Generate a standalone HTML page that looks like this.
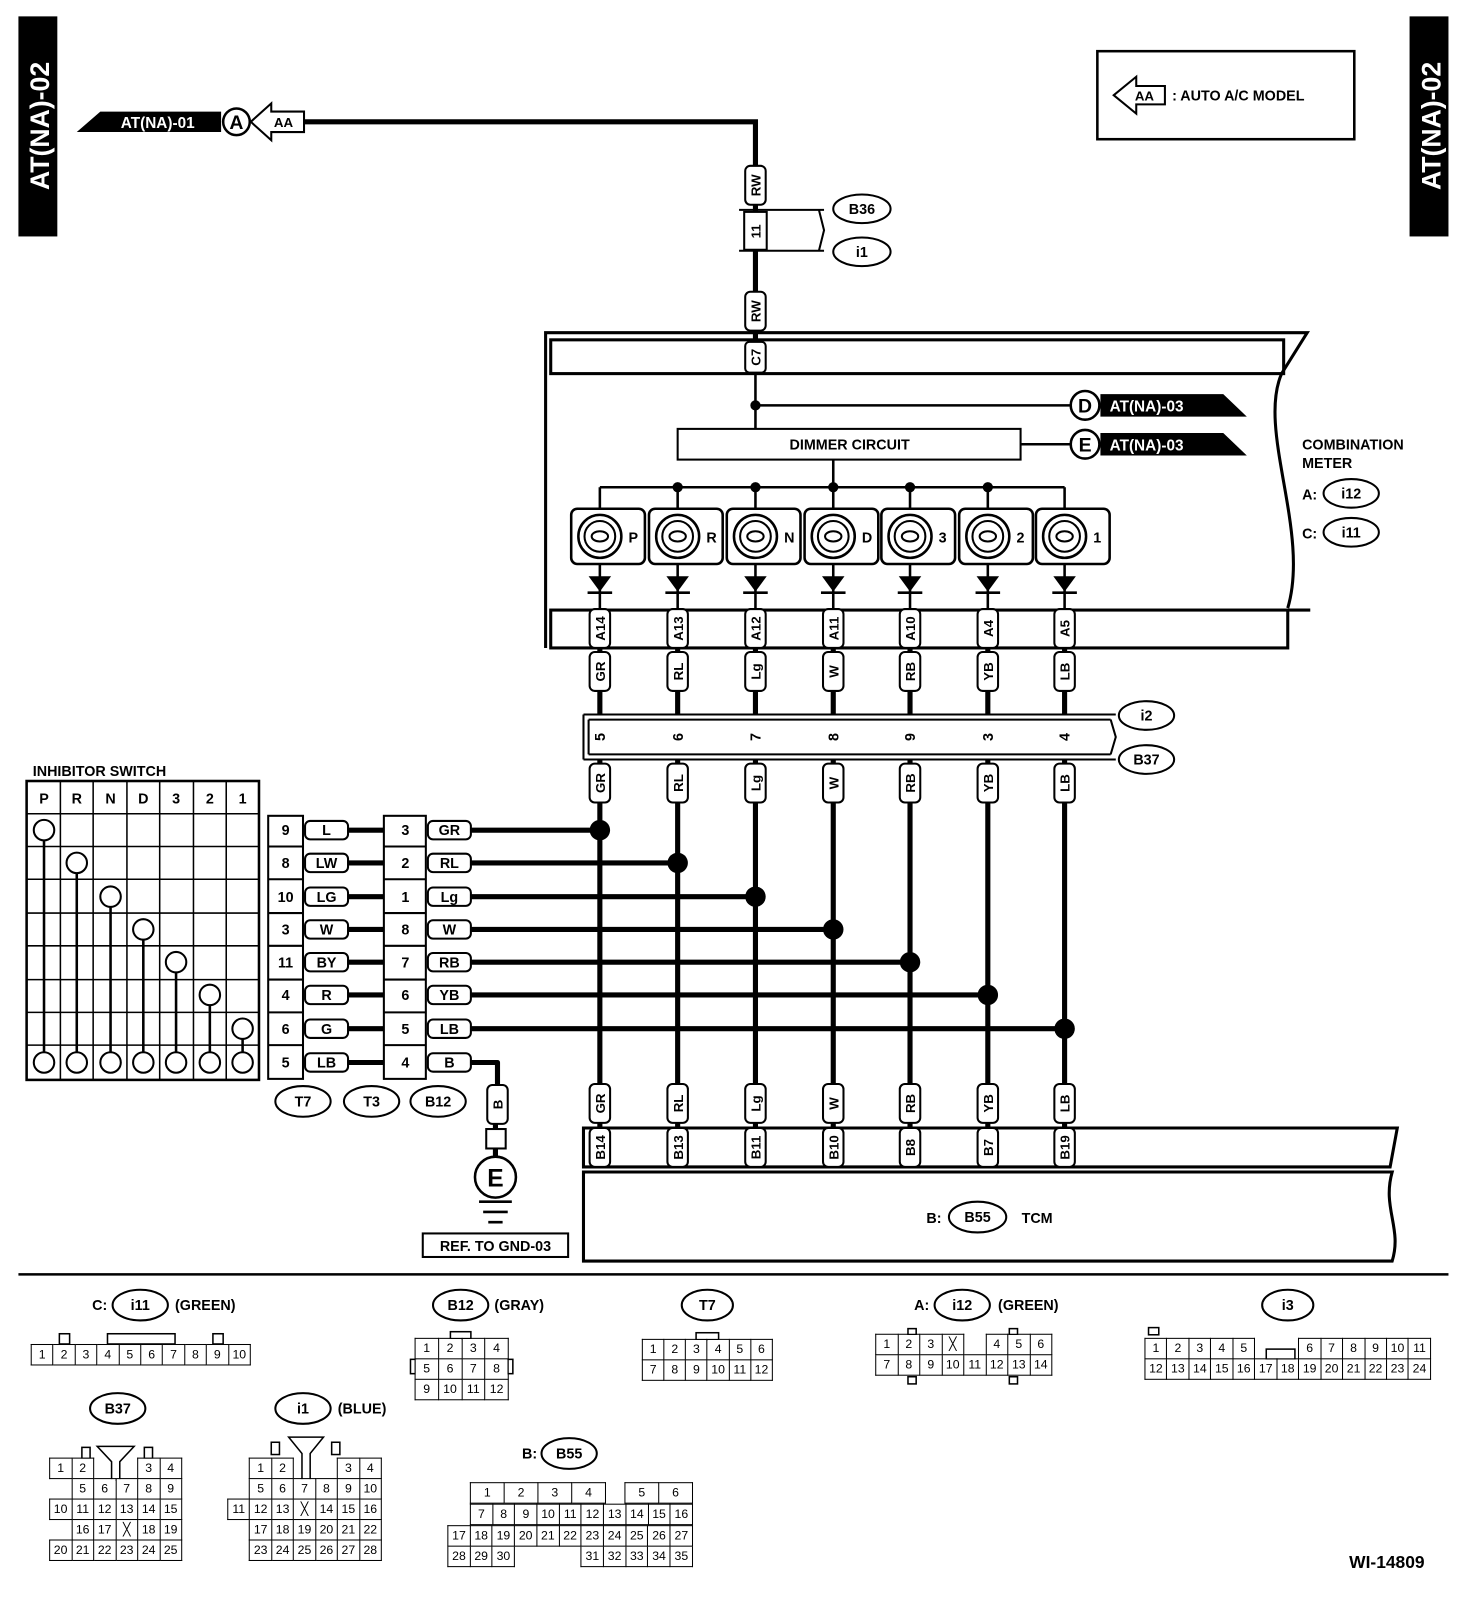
<!DOCTYPE html>
<html><head><meta charset="utf-8"><style>
body{margin:0;background:#fff;}
#w{position:absolute;left:0;top:0;width:1438px;height:1565px;transform:scale(1.02365,1.0236);transform-origin:0 0;font-family:"Liberation Sans",Arial,sans-serif;}
svg{position:absolute;left:0;top:0;}
svg text{font-family:"Liberation Sans",Arial,sans-serif;font-weight:bold;}
table{position:absolute;border-collapse:collapse;font-size:12px;table-layout:fixed;}
td{border:1.5px solid #000;text-align:center;padding:0;height:19px;line-height:17px;background:#fff;overflow:hidden;}
td.n{border:none;background:transparent;}
</style></head><body><div id="w">
<svg width="1438" height="1565" viewBox="0 0 1438 1565">
<defs>
<g id="vl"><rect x="-10" y="-19" width="20" height="38" rx="5" fill="#fff" stroke="#000" stroke-width="2"/></g>
<g id="lp">
<line x1="0" y1="476" x2="0" y2="497" stroke="#000" stroke-width="2.5"/>
<rect x="-28" y="497" width="72" height="54" rx="6" fill="#fff" stroke="#000" stroke-width="2.5"/>
<circle cx="0" cy="524" r="21" fill="none" stroke="#000" stroke-width="2.5"/>
<circle cx="0" cy="524" r="15" fill="none" stroke="#000" stroke-width="2"/>
<ellipse cx="0" cy="524" rx="8" ry="5" fill="none" stroke="#000" stroke-width="2"/>
<line x1="0" y1="551" x2="0" y2="596" stroke="#000" stroke-width="2.5"/>
<polygon points="-11,563 11,563 0,578"/><line x1="-12" y1="579" x2="12" y2="579" stroke="#000" stroke-width="2.5"/>
</g>
</defs>
<rect x="18" y="16" width="38" height="215" fill="#000"/>
<text transform="translate(48,123) rotate(-90)" text-anchor="middle" fill="#fff" font-size="26">AT(NA)-02</text>
<rect x="1377" y="16" width="38" height="215" fill="#000"/>
<text transform="translate(1407,123) rotate(-90)" text-anchor="middle" fill="#fff" font-size="26">AT(NA)-02</text>
<rect x="1072" y="50" width="251" height="86" fill="none" stroke="#000" stroke-width="2.5"/>
<polygon points="1088,93 1110,75 1110,84 1138,84 1138,102 1110,102 1110,111" fill="#fff" stroke="#000" stroke-width="2"/>
<text x="1118" y="98" text-anchor="middle" font-size="13">AA</text>
<text x="1145" y="98" font-size="14">: AUTO A/C MODEL</text>
<polygon points="75,129 98,109 216,109 216,129" fill="#000"/>
<text x="118" y="125" fill="#fff" font-size="15" font-weight="normal">AT(NA)-01</text>
<circle cx="231" cy="119" r="13" fill="#fff" stroke="#000" stroke-width="2.5"/>
<text x="231" y="126" text-anchor="middle" font-size="19">A</text>
<polygon points="245,119 265,101 265,109 297,109 297,129 265,129 265,137" fill="#fff" stroke="#000" stroke-width="2"/>
<text x="277" y="124" text-anchor="middle" font-size="13">AA</text>
<polyline points="297,119 738,119 738,340" fill="none" stroke="#000" stroke-width="5"/>
<use href="#vl" x="738" y="181"/><text transform="translate(738,181) rotate(-90)" text-anchor="middle" dy="5" font-size="13">RW</text>
<path d="M722,205 H805 M722,245 H805 M800,205 L805,225 L800,245" fill="none" stroke="#000" stroke-width="2"/>
<rect x="727" y="207" width="22" height="37" fill="#fff" stroke="#000" stroke-width="2"/>
<text transform="translate(738,226) rotate(-90)" text-anchor="middle" dy="5" font-size="13">11</text>
<ellipse cx="842" cy="204" rx="28" ry="14" fill="#fff" stroke="#000" stroke-width="2"/><text x="842" y="209" text-anchor="middle" font-size="14">B36</text>
<ellipse cx="842" cy="246" rx="28" ry="14" fill="#fff" stroke="#000" stroke-width="2"/><text x="842" y="251" text-anchor="middle" font-size="14">i1</text>
<use href="#vl" x="738" y="304"/><text transform="translate(738,304) rotate(-90)" text-anchor="middle" dy="5" font-size="13">RW</text>
<path d="M533,633 V325 H1277 L1252,365 C1228,420 1280,520 1258,594" fill="none" stroke="#000" stroke-width="3"/>
<rect x="538" y="332" width="716" height="33" fill="none" stroke="#000" stroke-width="3"/>
<rect x="538" y="596" width="720" height="37" fill="none" stroke="#000" stroke-width="3"/>
<line x1="1258" y1="596" x2="1280" y2="596" stroke="#000" stroke-width="3"/>
<rect x="728" y="334" width="20" height="30" rx="4" fill="#fff" stroke="#000" stroke-width="2"/>
<text transform="translate(738,349) rotate(-90)" text-anchor="middle" dy="5" font-size="13">C7</text>
<line x1="738" y1="365" x2="738" y2="419" stroke="#000" stroke-width="2.5"/>
<line x1="738" y1="396" x2="1046" y2="396" stroke="#000" stroke-width="2.5"/>
<circle cx="738" cy="396" r="5"/>
<circle cx="1060" cy="396" r="14" fill="#fff" stroke="#000" stroke-width="2.5"/><text x="1060" y="403" text-anchor="middle" font-size="19">D</text>
<polygon points="1075,385 1195,385 1218,407 1075,407" fill="#000"/><text x="1084" y="402" fill="#fff" font-size="15" font-weight="normal">AT(NA)-03</text>
<rect x="662" y="419" width="335" height="30" fill="#fff" stroke="#000" stroke-width="2"/>
<text x="830" y="439" text-anchor="middle" font-size="14">DIMMER CIRCUIT</text>
<line x1="997" y1="434" x2="1046" y2="434" stroke="#000" stroke-width="2.5"/>
<circle cx="1060" cy="434" r="14" fill="#fff" stroke="#000" stroke-width="2.5"/><text x="1060" y="441" text-anchor="middle" font-size="19">E</text>
<polygon points="1075,423 1195,423 1218,445 1075,445" fill="#000"/><text x="1084" y="440" fill="#fff" font-size="15" font-weight="normal">AT(NA)-03</text>
<line x1="814" y1="449" x2="814" y2="476" stroke="#000" stroke-width="2.5"/>
<line x1="586" y1="476" x2="1040" y2="476" stroke="#000" stroke-width="2.5"/>
<g fill="#000"><circle cx="662" cy="476" r="5"/><circle cx="738" cy="476" r="5"/><circle cx="814" cy="476" r="5"/><circle cx="889" cy="476" r="5"/><circle cx="965" cy="476" r="5"/></g>
<text x="1272" y="439" font-size="14">COMBINATION</text>
<text x="1272" y="457" font-size="14">METER</text>
<text x="1272" y="488" font-size="14">A:</text>
<ellipse cx="1320" cy="482" rx="27" ry="14" fill="#fff" stroke="#000" stroke-width="2"/><text x="1320" y="487" text-anchor="middle" font-size="14">i12</text>
<text x="1272" y="526" font-size="14">C:</text>
<ellipse cx="1320" cy="520" rx="27" ry="14" fill="#fff" stroke="#000" stroke-width="2"/><text x="1320" y="525" text-anchor="middle" font-size="14">i11</text>
<use href="#lp" x="586"/><use href="#lp" x="662"/><use href="#lp" x="738"/><use href="#lp" x="814"/><use href="#lp" x="889"/><use href="#lp" x="965"/><use href="#lp" x="1040"/>
<g font-size="14">
<text x="614" y="530">P</text><text x="690" y="530">R</text><text x="766" y="530">N</text><text x="842" y="530">D</text><text x="917" y="530">3</text><text x="993" y="530">2</text><text x="1068" y="530">1</text>
</g>
<g stroke="#000" stroke-width="5">
<path d="M586,633V698M662,633V698M738,633V698M814,633V698M889,633V698M965,633V698M1040,633V698"/>
<path d="M586,742V1102M662,742V1102M738,742V1102M814,742V1102M889,742V1102M965,742V1102M1040,742V1102"/>
</g>
<path d="M570,698 H1090 M570,742 H1090 M575,703 H1085 M575,737 H1085 M570,698 V742 M575,703 V737 M1085,703 L1090,720 L1085,737" fill="none" stroke="#000" stroke-width="2"/>
<ellipse cx="1120" cy="699" rx="27" ry="14" fill="#fff" stroke="#000" stroke-width="2"/><text x="1120" y="704" text-anchor="middle" font-size="14">i2</text>
<ellipse cx="1120" cy="742" rx="27" ry="14" fill="#fff" stroke="#000" stroke-width="2"/><text x="1120" y="747" text-anchor="middle" font-size="14">B37</text>
<path d="M570,1102 H1365 L1358,1140 H570 Z" fill="none" stroke="#000" stroke-width="3"/>
<path d="M570,1145 H1360 C1350,1180 1370,1200 1360,1232 H570 Z" fill="none" stroke="#000" stroke-width="3"/>
<text x="905" y="1195" font-size="14">B:</text>
<ellipse cx="955" cy="1189" rx="28" ry="15" fill="#fff" stroke="#000" stroke-width="2"/><text x="955" y="1194" text-anchor="middle" font-size="14">B55</text>
<text x="998" y="1195" font-size="14">TCM</text>
<g stroke="#000" stroke-width="5" fill="none" stroke-linejoin="round">
<path d="M340,811H375M460,811H586M340,843H375M460,843H662M340,876H375M460,876H738M340,908H375M460,908H814M340,940H375M460,940H889M340,972H375M460,972H965M340,1005H375M460,1005H1040M340,1038H375M460,1038H486V1060"/>
<path d="M484,1098V1103M484,1122V1130"/>
</g>
<g fill="#000"><circle cx="586" cy="811" r="10"/><circle cx="662" cy="843" r="10"/><circle cx="738" cy="876" r="10"/><circle cx="814" cy="908" r="10"/><circle cx="889" cy="940" r="10"/><circle cx="965" cy="972" r="10"/><circle cx="1040" cy="1005" r="10"/></g>
<g font-size="13">
<use href="#vl" x="586" y="614"/><use href="#vl" x="662" y="614"/><use href="#vl" x="738" y="614"/><use href="#vl" x="814" y="614"/><use href="#vl" x="889" y="614"/><use href="#vl" x="965" y="614"/><use href="#vl" x="1040" y="614"/>
<use href="#vl" x="586" y="656"/><use href="#vl" x="662" y="656"/><use href="#vl" x="738" y="656"/><use href="#vl" x="814" y="656"/><use href="#vl" x="889" y="656"/><use href="#vl" x="965" y="656"/><use href="#vl" x="1040" y="656"/>
<use href="#vl" x="586" y="765"/><use href="#vl" x="662" y="765"/><use href="#vl" x="738" y="765"/><use href="#vl" x="814" y="765"/><use href="#vl" x="889" y="765"/><use href="#vl" x="965" y="765"/><use href="#vl" x="1040" y="765"/>
<use href="#vl" x="586" y="1078"/><use href="#vl" x="662" y="1078"/><use href="#vl" x="738" y="1078"/><use href="#vl" x="814" y="1078"/><use href="#vl" x="889" y="1078"/><use href="#vl" x="965" y="1078"/><use href="#vl" x="1040" y="1078"/>
<use href="#vl" x="586" y="1121"/><use href="#vl" x="662" y="1121"/><use href="#vl" x="738" y="1121"/><use href="#vl" x="814" y="1121"/><use href="#vl" x="889" y="1121"/><use href="#vl" x="965" y="1121"/><use href="#vl" x="1040" y="1121"/>
<use href="#vl" x="486" y="1079"/>
<rect x="577" y="705" width="18" height="30" fill="#fff"/><rect x="653" y="705" width="18" height="30" fill="#fff"/><rect x="729" y="705" width="18" height="30" fill="#fff"/><rect x="805" y="705" width="18" height="30" fill="#fff"/><rect x="880" y="705" width="18" height="30" fill="#fff"/><rect x="956" y="705" width="18" height="30" fill="#fff"/><rect x="1031" y="705" width="18" height="30" fill="#fff"/>
</g>
<g font-size="13" text-anchor="middle">
<text transform="translate(591,614) rotate(-90)">A14</text><text transform="translate(667,614) rotate(-90)">A13</text><text transform="translate(743,614) rotate(-90)">A12</text><text transform="translate(819,614) rotate(-90)">A11</text><text transform="translate(894,614) rotate(-90)">A10</text><text transform="translate(970,614) rotate(-90)">A4</text><text transform="translate(1045,614) rotate(-90)">A5</text>
<text transform="translate(591,656) rotate(-90)">GR</text><text transform="translate(667,656) rotate(-90)">RL</text><text transform="translate(743,656) rotate(-90)">Lg</text><text transform="translate(819,656) rotate(-90)">W</text><text transform="translate(894,656) rotate(-90)">RB</text><text transform="translate(970,656) rotate(-90)">YB</text><text transform="translate(1045,656) rotate(-90)">LB</text>
<text transform="translate(591,720) rotate(-90)" font-size="14">5</text><text transform="translate(667,720) rotate(-90)" font-size="14">6</text><text transform="translate(743,720) rotate(-90)" font-size="14">7</text><text transform="translate(819,720) rotate(-90)" font-size="14">8</text><text transform="translate(894,720) rotate(-90)" font-size="14">9</text><text transform="translate(970,720) rotate(-90)" font-size="14">3</text><text transform="translate(1045,720) rotate(-90)" font-size="14">4</text>
<text transform="translate(591,765) rotate(-90)">GR</text><text transform="translate(667,765) rotate(-90)">RL</text><text transform="translate(743,765) rotate(-90)">Lg</text><text transform="translate(819,765) rotate(-90)">W</text><text transform="translate(894,765) rotate(-90)">RB</text><text transform="translate(970,765) rotate(-90)">YB</text><text transform="translate(1045,765) rotate(-90)">LB</text>
<text transform="translate(591,1078) rotate(-90)">GR</text><text transform="translate(667,1078) rotate(-90)">RL</text><text transform="translate(743,1078) rotate(-90)">Lg</text><text transform="translate(819,1078) rotate(-90)">W</text><text transform="translate(894,1078) rotate(-90)">RB</text><text transform="translate(970,1078) rotate(-90)">YB</text><text transform="translate(1045,1078) rotate(-90)">LB</text>
<text transform="translate(591,1121) rotate(-90)">B14</text><text transform="translate(667,1121) rotate(-90)">B13</text><text transform="translate(743,1121) rotate(-90)">B11</text><text transform="translate(819,1121) rotate(-90)">B10</text><text transform="translate(894,1121) rotate(-90)">B8</text><text transform="translate(970,1121) rotate(-90)">B7</text><text transform="translate(1045,1121) rotate(-90)">B19</text>
<text transform="translate(491,1079) rotate(-90)">B</text>
</g>
<rect x="475" y="1103" width="19" height="19" fill="#fff" stroke="#000" stroke-width="2"/>
<circle cx="484" cy="1150" r="20" fill="#fff" stroke="#000" stroke-width="2.5"/><text x="484" y="1159" text-anchor="middle" font-size="24">E</text>
<path d="M468,1174H500M472,1184H496M477,1194H491" stroke="#000" stroke-width="2.5"/>
<rect x="413" y="1205" width="142" height="23" fill="#fff" stroke="#000" stroke-width="2"/>
<text x="484" y="1222" text-anchor="middle" font-size="14">REF. TO GND-03</text>
<text x="32" y="758" font-size="14">INHIBITOR SWITCH</text>
<g stroke="#000" stroke-width="1.5" fill="none">
<rect x="26" y="763" width="227" height="292" stroke-width="2.5"/>
<path d="M59,763V1055M91,763V1055M124,763V1055M156,763V1055M189,763V1055M221,763V1055"/>
<path d="M26,795H253M26,827H253M26,859H253M26,892H253M26,924H253M26,957H253M26,989H253M26,1021H253"/>
</g>
<g stroke="#000" stroke-width="2.5"><path d="M75,843V1038M108,876V1038M140,908V1038M172,940V1038M205,972V1038M237,1005V1038M43,811V1038"/></g>
<g fill="#fff" stroke="#000" stroke-width="2">
<circle cx="43" cy="811" r="10"/><circle cx="75" cy="843" r="10"/><circle cx="108" cy="876" r="10"/><circle cx="140" cy="908" r="10"/><circle cx="172" cy="940" r="10"/><circle cx="205" cy="972" r="10"/><circle cx="237" cy="1005" r="10"/>
<circle cx="43" cy="1038" r="10"/><circle cx="75" cy="1038" r="10"/><circle cx="108" cy="1038" r="10"/><circle cx="140" cy="1038" r="10"/><circle cx="172" cy="1038" r="10"/><circle cx="205" cy="1038" r="10"/><circle cx="237" cy="1038" r="10"/>
</g>
<g font-size="14" text-anchor="middle">
<text x="43" y="785">P</text><text x="75" y="785">R</text><text x="108" y="785">N</text><text x="140" y="785">D</text><text x="172" y="785">3</text><text x="205" y="785">2</text><text x="237" y="785">1</text>
</g>
<g stroke="#000" stroke-width="2" fill="#fff">
<rect x="262" y="797" width="34" height="257"/><rect x="375" y="797" width="41" height="257"/>
<path d="M262,827H296M262,859H296M262,892H296M262,924H296M262,957H296M262,989H296M262,1021H296M375,827H416M375,859H416M375,892H416M375,924H416M375,957H416M375,989H416M375,1021H416" fill="none"/>
</g>
<g stroke="#000" stroke-width="2" fill="#fff">
<rect x="298" y="802" width="42" height="18" rx="5"/><rect x="298" y="834" width="42" height="18" rx="5"/><rect x="298" y="867" width="42" height="18" rx="5"/><rect x="298" y="899" width="42" height="18" rx="5"/><rect x="298" y="931" width="42" height="18" rx="5"/><rect x="298" y="963" width="42" height="18" rx="5"/><rect x="298" y="996" width="42" height="18" rx="5"/><rect x="298" y="1029" width="42" height="18" rx="5"/>
<rect x="418" y="802" width="42" height="18" rx="5"/><rect x="418" y="834" width="42" height="18" rx="5"/><rect x="418" y="867" width="42" height="18" rx="5"/><rect x="418" y="899" width="42" height="18" rx="5"/><rect x="418" y="931" width="42" height="18" rx="5"/><rect x="418" y="963" width="42" height="18" rx="5"/><rect x="418" y="996" width="42" height="18" rx="5"/><rect x="418" y="1029" width="42" height="18" rx="5"/>
</g>
<g font-size="14" text-anchor="middle">
<text x="279" y="816">9</text><text x="279" y="848">8</text><text x="279" y="881">10</text><text x="279" y="913">3</text><text x="279" y="945">11</text><text x="279" y="977">4</text><text x="279" y="1010">6</text><text x="279" y="1043">5</text>
<text x="319" y="816">L</text><text x="319" y="848">LW</text><text x="319" y="881">LG</text><text x="319" y="913">W</text><text x="319" y="945">BY</text><text x="319" y="977">R</text><text x="319" y="1010">G</text><text x="319" y="1043">LB</text>
<text x="396" y="816">3</text><text x="396" y="848">2</text><text x="396" y="881">1</text><text x="396" y="913">8</text><text x="396" y="945">7</text><text x="396" y="977">6</text><text x="396" y="1010">5</text><text x="396" y="1043">4</text>
<text x="439" y="816">GR</text><text x="439" y="848">RL</text><text x="439" y="881">Lg</text><text x="439" y="913">W</text><text x="439" y="945">RB</text><text x="439" y="977">YB</text><text x="439" y="1010">LB</text><text x="439" y="1043">B</text>
</g>
<g fill="#fff" stroke="#000" stroke-width="2">
<ellipse cx="296" cy="1076" rx="27" ry="15"/><ellipse cx="363" cy="1076" rx="27" ry="15"/><ellipse cx="428" cy="1076" rx="27" ry="15"/>
</g>
<g font-size="14" text-anchor="middle"><text x="296" y="1081">T7</text><text x="363" y="1081">T3</text><text x="428" y="1081">B12</text></g>
<line x1="18" y1="1245" x2="1415" y2="1245" stroke="#000" stroke-width="2.5"/>
<g fill="#fff" stroke="#000" stroke-width="2">
<ellipse cx="137" cy="1275" rx="27" ry="15"/><ellipse cx="450" cy="1275" rx="27" ry="15"/><ellipse cx="691" cy="1275" rx="25" ry="15"/><ellipse cx="940" cy="1275" rx="27" ry="15"/><ellipse cx="1258" cy="1275" rx="25" ry="15"/>
<ellipse cx="115" cy="1376" rx="27" ry="15"/><ellipse cx="296" cy="1376" rx="27" ry="15"/><ellipse cx="556" cy="1420" rx="27" ry="15"/>
</g>
<g font-size="14">
<text x="90" y="1280">C:</text><text x="137" y="1280" text-anchor="middle">i11</text><text x="171" y="1280">(GREEN)</text>
<text x="450" y="1280" text-anchor="middle">B12</text><text x="483" y="1280">(GRAY)</text>
<text x="691" y="1280" text-anchor="middle">T7</text>
<text x="893" y="1280">A:</text><text x="940" y="1280" text-anchor="middle">i12</text><text x="975" y="1280">(GREEN)</text>
<text x="1258" y="1280" text-anchor="middle">i3</text>
<text x="115" y="1381" text-anchor="middle">B37</text>
<text x="296" y="1381" text-anchor="middle">i1</text><text x="330" y="1381">(BLUE)</text>
<text x="510" y="1425">B:</text><text x="556" y="1425" text-anchor="middle">B55</text>
<text x="1318" y="1532" font-weight="normal" font-size="17">WI-14809</text>
</g>
<g fill="#fff" stroke="#000" stroke-width="1.5">
<rect x="58" y="1303" width="10" height="10"/><rect x="105" y="1303" width="66" height="10"/><rect x="208" y="1303" width="10" height="10"/>
<rect x="440" y="1301" width="20" height="7"/><rect x="680" y="1302" width="22" height="7"/>
<rect x="1122" y="1297" width="10" height="7"/><rect x="1237" y="1318" width="28" height="10"/>
<rect x="401" y="1328" width="5" height="14"/><rect x="496" y="1328" width="5" height="14"/>
<rect x="887" y="1298" width="8" height="6"/><rect x="887" y="1345" width="8" height="7"/><rect x="986" y="1298" width="8" height="6"/><rect x="986" y="1345" width="8" height="7"/>
<rect x="80" y="1414" width="8" height="11"/><rect x="141" y="1414" width="8" height="11"/>
<polygon points="95,1413 131,1413 117,1428 117,1446 109,1446 109,1428"/>
<rect x="265" y="1409" width="8" height="12"/><rect x="324" y="1409" width="8" height="12"/>
<polygon points="282,1404 316,1404 303,1420 303,1446 295,1446 295,1420"/>
</g>
</svg>
<table style="left:30px;top:1313px;width:215px"><tr><td>1</td><td>2</td><td>3</td><td>4</td><td>5</td><td>6</td><td>7</td><td>8</td><td>9</td><td>10</td></tr></table>
<table style="left:405px;top:1307px;width:92px"><tr><td>1</td><td>2</td><td>3</td><td>4</td></tr><tr><td>5</td><td>6</td><td>7</td><td>8</td></tr><tr><td>9</td><td>10</td><td>11</td><td>12</td></tr></table>
<table style="left:627px;top:1308px;width:128px"><tr><td>1</td><td>2</td><td>3</td><td>4</td><td>5</td><td>6</td></tr><tr><td>7</td><td>8</td><td>9</td><td>10</td><td>11</td><td>12</td></tr></table>
<table style="left:855px;top:1303px;width:173px"><tr><td>1</td><td>2</td><td>3</td><td>╳</td><td class="n"></td><td>4</td><td>5</td><td>6</td></tr><tr><td>7</td><td>8</td><td>9</td><td>10</td><td>11</td><td>12</td><td>13</td><td>14</td></tr></table>
<table style="left:1118px;top:1307px;width:280px"><tr><td>1</td><td>2</td><td>3</td><td>4</td><td>5</td><td class="n"></td><td class="n"></td><td>6</td><td>7</td><td>8</td><td>9</td><td>10</td><td>11</td></tr><tr><td>12</td><td>13</td><td>14</td><td>15</td><td>16</td><td>17</td><td>18</td><td>19</td><td>20</td><td>21</td><td>22</td><td>23</td><td>24</td></tr></table>
<table style="left:48px;top:1424px;width:130px"><tr><td>1</td><td>2</td><td class="n"></td><td class="n"></td><td>3</td><td>4</td></tr><tr><td class="n"></td><td>5</td><td>6</td><td>7</td><td>8</td><td>9</td></tr><tr><td>10</td><td>11</td><td>12</td><td>13</td><td>14</td><td>15</td></tr><tr><td class="n"></td><td>16</td><td>17</td><td>╳</td><td>18</td><td>19</td></tr><tr><td>20</td><td>21</td><td>22</td><td>23</td><td>24</td><td>25</td></tr></table>
<table style="left:222px;top:1424px;width:151px"><tr><td class="n"></td><td>1</td><td>2</td><td class="n"></td><td class="n"></td><td>3</td><td>4</td></tr><tr><td class="n"></td><td>5</td><td>6</td><td>7</td><td>8</td><td>9</td><td>10</td></tr><tr><td>11</td><td>12</td><td>13</td><td>╳</td><td>14</td><td>15</td><td>16</td></tr><tr><td class="n"></td><td>17</td><td>18</td><td>19</td><td>20</td><td>21</td><td>22</td></tr><tr><td class="n"></td><td>23</td><td>24</td><td>25</td><td>26</td><td>27</td><td>28</td></tr></table>
<table style="left:459px;top:1448px;width:218px"><tr><td>1</td><td>2</td><td>3</td><td>4</td><td class="n" style="width:18px"></td><td>5</td><td>6</td></tr></table>
<table style="left:459px;top:1469px;width:218px"><tr><td>7</td><td>8</td><td>9</td><td>10</td><td>11</td><td>12</td><td>13</td><td>14</td><td>15</td><td>16</td></tr></table>
<table style="left:437px;top:1490px;width:240px"><tr><td>17</td><td>18</td><td>19</td><td>20</td><td>21</td><td>22</td><td>23</td><td>24</td><td>25</td><td>26</td><td>27</td></tr><tr><td>28</td><td>29</td><td>30</td><td class="n"></td><td class="n"></td><td class="n"></td><td>31</td><td>32</td><td>33</td><td>34</td><td>35</td></tr></table>
</div></body></html>
